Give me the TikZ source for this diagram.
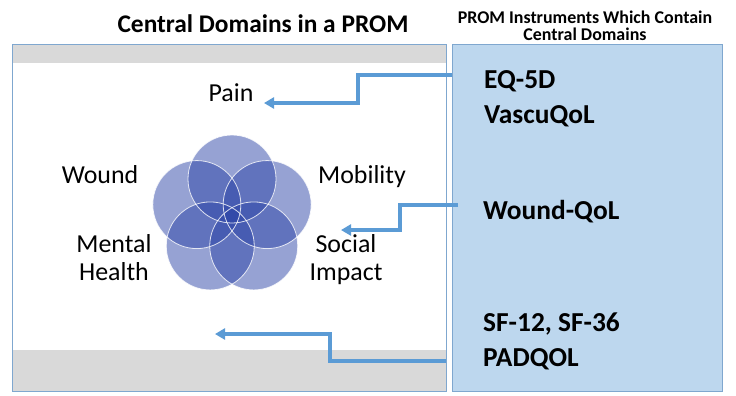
\documentclass[tikz,border=0pt]{standalone}
\usepackage{fontspec}
\setmainfont{Carlito}
\usetikzlibrary{arrows.meta}

\definecolor{linkblue}{HTML}{5B9BD5}
\definecolor{panelblue}{HTML}{BDD7EE}
\definecolor{paneledge}{HTML}{7FA7CF}
\definecolor{bandgray}{HTML}{D9D9D9}
\definecolor{petal}{HTML}{2E46A8}

\tikzset{
    domainlabel/.style={font=\fontsize{26}{28}\selectfont, align=center, anchor=base, inner sep=0pt},
    instrument/.style={font=\bfseries\fontsize{27.5}{28}\selectfont, anchor=base west, inner sep=0pt},
    link/.style={draw=linkblue, line width=3.5bp, -{Triangle[length=10bp,width=11bp]}},
}

\begin{document}
\begin{tikzpicture}[x=1bp, y=-1bp]
    \useasboundingbox (0,0) rectangle (736,395);
    \def\petalradius{44}

    % left panel with the grey bands
    \fill[white] (12,44) rectangle (446,391);
    \fill[bandgray] (12,44) rectangle (446,63);
    \fill[bandgray] (12,350) rectangle (446,391);
    \draw[paneledge, line width=0.8bp] (12,44) rectangle (446,391);

    % right panel
    \node [draw=paneledge, fill=panelblue, line width=0.8bp, minimum width=270bp,
        minimum height=347bp, inner sep=0pt, anchor=north west] (instruments) at (452,44) {};

    % titles
    \node [font=\bfseries\fontsize{25.5}{28}\selectfont, anchor=base] (lefttitle) at (263,32) {Central Domains in a PROM};
    \node [font=\bfseries\fontsize{18}{17}\selectfont, align=center, anchor=base] (righttitle) at (585,40)
        {PROM Instruments Which Contain\\Central Domains};

    % five overlapping domains
    \begin{scope}[shift={(232,216)}]
        \foreach \ang in {90,162,234,306,18} {
            \fill[petal, fill opacity=0.5] (-\ang:37) circle (\petalradius);
        }
        \foreach \ang in {90,162,234,306,18} {
            \draw[white, line width=0.8bp, opacity=0.8] (-\ang:37) circle (\petalradius);
        }
    \end{scope}

    % domain labels
    \node [domainlabel] (pain) at (231,101) {Pain};
    \node [domainlabel] (wound) at (100,183) {Wound};
    \node [domainlabel] (mobility) at (362,183) {Mobility};
    \node [domainlabel] (mental) at (114,280) {Mental\\Health};
    \node [domainlabel] (social) at (346,280) {Social\\Impact};

    % instruments
    \node [instrument] (eqfived) at (484,88) {EQ-5D};
    \node [instrument] (vascuqol) at (484,123) {VascuQoL};
    \node [instrument] (woundqol) at (483,219) {Wound-QoL};
    \node [instrument] (sftwelve) at (483,331) {SF-12, SF-36};
    \node [instrument] (padqol) at (483,366) {PADQOL};

    % connectors
    \coordinate (painfrom) at (452,75);
    \coordinate (paintip) at (264,103);
    \coordinate (woundfrom) at (458,205);
    \coordinate (woundtip) at (341,230);
    \coordinate (healthfrom) at (446,361);
    \coordinate (healthtip) at (215,334);
    \draw[link] (painfrom) -| (358,103) -- (paintip);
    \draw[link] (woundfrom) -| (400,230) -- (woundtip);
    \draw[link] (healthfrom) -| (330,334) -- (healthtip);
\end{tikzpicture}
\end{document}
